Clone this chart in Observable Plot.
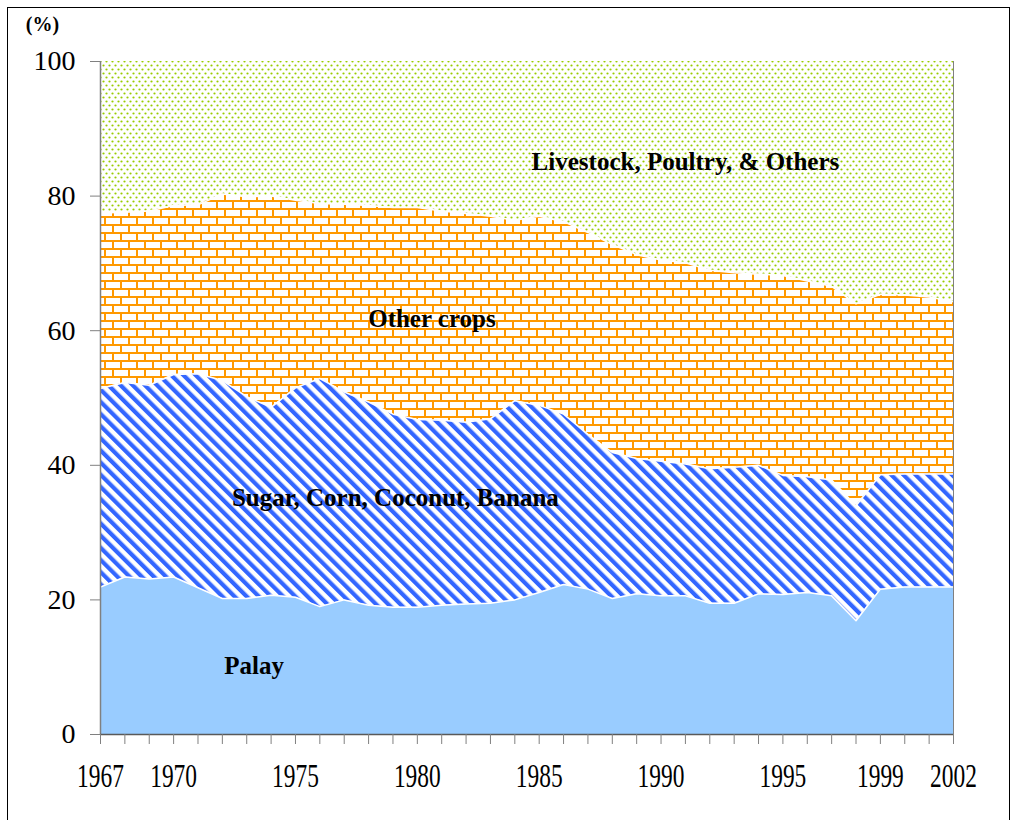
<!DOCTYPE html>
<html><head><meta charset="utf-8">
<script src="https://cdn.jsdelivr.net/npm/d3@7"></script>
<script src="https://cdn.jsdelivr.net/npm/@observablehq/plot@0.6"></script>
<style>
html,body{margin:0;padding:0;background:#fff;}
#wrap{position:relative;width:1016px;height:820px;overflow:hidden;}
#frame{position:absolute;left:7px;top:7px;width:1001px;height:830px;border:1px solid #000;pointer-events:none;}
</style></head><body><div id="wrap"><div id="frame"></div></div>
<script>
const years = [1967,1968,1969,1970,1971,1972,1973,1974,1975,1976,1977,1978,1979,1980,1981,1982,1983,1984,1985,1986,1987,1988,1989,1990,1991,1992,1993,1994,1995,1996,1997,1998,1999,2000,2001,2002];
const palay = [21.9,23.4,23.1,23.4,21.8,20.2,20.2,20.7,20.4,19.0, 20.0,19.2,18.9,18.9,19.2,19.4,19.5,20.0,21.1,22.3, 21.6,20.2,20.9,20.6,20.6,19.5,19.5,20.9,20.8,21.1, 20.6,16.9,21.6,21.9,21.9,21.9];
const sugarCornCoconutBanana = [29.5,28.9,28.8,30.1,31.8,32.4,30.0,27.9,31.1,33.9, 30.9,30.2,28.7,27.9,27.5,27.0,27.4,29.6,27.8,25.3, 23.0,21.7,20.1,20.0,19.6,20.0,20.2,19.1,17.7,17.2, 17.2,17.1,17.0,16.8,16.8,16.8];
const otherCrops = [26.1,25.3,25.9,25.1,25.1,27.7,29.7,31.4,27.9,26.0, 27.9,29.2,30.7,31.5,31.1,31.0,30.1,26.8,28.1,28.6, 30.0,30.9,30.3,29.9,29.9,29.5,28.9,28.4,29.7,29.1, 28.8,30.0,26.8,26.6,26.3,25.6];
const livestock = [22.5,22.4,22.2,21.4,21.3,19.7,20.1,20.0,20.6,21.1, 21.2,21.4,21.7,21.7,22.2,22.6,23.0,23.6,23.0,23.8, 25.4,27.2,28.7,29.5,29.9,31.0,31.4,31.6,31.8,32.6, 33.4,36.0,34.6,34.7,35.0,35.7];
const seriesNames = ["Palay","Sugar, Corn, Coconut, Banana","Other crops","Livestock, Poultry, & Others"];
const xTickLabels = [1967,1970,1975,1980,1985,1990,1995,1999,2002];
const yTicks = [0,20,40,60,80,100];

const seriesValues = [palay, sugarCornCoconutBanana, otherCrops, livestock];
const labelAt = [[1973.3,10.25],[1979.1,35.2],[1980.6,61.8],[1991.0,85.0]];
const fills = ["#99CCFF","url(#stripes)","url(#bricks)","url(#dots)"];

const rows = seriesNames.flatMap((s,i)=> years.map((yr,j)=>({series:s, year:yr, share: seriesValues[i][j]})));

const chart = Plot.plot({
  width:1016, height:820, marginLeft:100, marginRight:63, marginTop:61, marginBottom:86,
  style:{fontFamily:"'Liberation Serif','Times New Roman',serif", fontSize:"24px", background:"transparent", color:"black"},
  x:{domain:[1967,2002]},
  y:{domain:[0,100]},
  color:{domain:seriesNames, range:fills},
  marks:[
    Plot.areaY(rows, Plot.stackY({x:"year", y:"share", z:"series", fill:"series"})),
    Plot.lineY(rows.filter(d=>d.series!==seriesNames[3]), Plot.stackY2({x:"year", y:"share", z:"series", stroke:"white", strokeWidth:1.5})),
    Plot.ruleX([2002], {stroke:"#808080"}),
    Plot.ruleX([1967], {stroke:"#808080", strokeWidth:1.5}),
    Plot.ruleY([0], {stroke:"#595959", strokeWidth:1.5}),
    Plot.axisY({ticks:yTicks, tickSize:10, tickPadding:15, stroke:"#808080", fill:"black", fontSize:28, label:null}),
    Plot.axisX({ticks:years, tickSize:10, tickFormat:()=>"", stroke:"#808080", label:null}),
    Plot.axisX({ticks:xTickLabels, tickSize:0, tickPadding:29, tickFormat:d=>String(d), fill:"black", fontSize:33, label:null}),
    Plot.text(seriesNames, {x:(d,i)=>labelAt[i][0], y:(d,i)=>labelAt[i][1], text:d=>d, fontWeight:"bold", fontSize:25, fill:"black"}),
    Plot.text(["(%)"], {frameAnchor:"top-left", dx:-58, dy:-37, textAnchor:"middle", lineAnchor:"middle", text:d=>d, fontWeight:"bold", fontSize:20, fill:"black"})
  ]
});
chart.insertAdjacentHTML("afterbegin", `<defs>
<pattern id="stripes" width="8.6" height="8.6" patternUnits="userSpaceOnUse" patternTransform="rotate(-45)"><rect width="8.6" height="8.6" fill="white"/><rect x="0" width="4.2" height="8.6" fill="#3366FF"/></pattern>
<pattern id="bricks" width="16" height="16" patternUnits="userSpaceOnUse"><rect width="16" height="16" fill="white"/><path d="M0 1H16M0 9H16M1 1V9M9 9V17" stroke="#FF9900" stroke-width="2"/></pattern>
<pattern id="dots" width="6" height="8" patternUnits="userSpaceOnUse"><rect width="6" height="8" fill="white"/><circle cx="1.5" cy="1.5" r="1.1" fill="#99CC00"/><circle cx="4.5" cy="5.5" r="1.1" fill="#99CC00"/></pattern>
</defs>`);
// horizontally condense the year labels, like the reference's narrow axis font
chart.querySelectorAll("text").forEach(t => {
  const s = t.textContent.trim();
  if (!xTickLabels.map(String).includes(s)) return;
  const tr = t.getAttribute("transform");
  if (tr) {
    t.setAttribute("transform", tr + " scale(0.71,1)");
  } else {
    const x = +(t.getAttribute("x") || 0), y = +(t.getAttribute("y") || 0);
    t.removeAttribute("x"); t.removeAttribute("y");
    t.setAttribute("transform", `translate(${x},${y}) scale(0.71,1)`);
  }
});
document.getElementById("wrap").prepend(chart);
</script></body></html>
